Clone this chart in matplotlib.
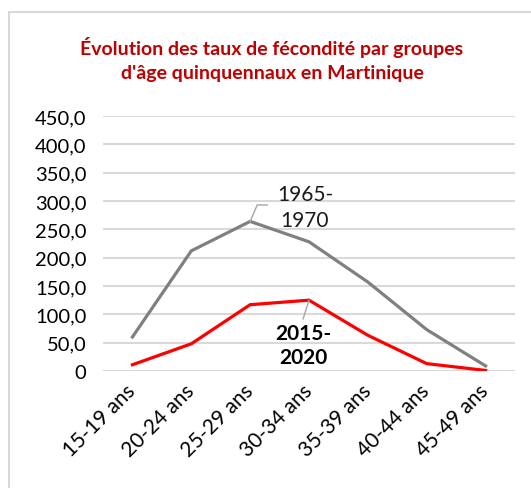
import matplotlib
matplotlib.use("Agg")
import matplotlib.pyplot as plt
from matplotlib.patches import Rectangle

plt.rcParams['font.family'] = ['Lato', 'DejaVu Sans']

age_groups = ["15-19 ans", "20-24 ans", "25-29 ans", "30-34 ans",
              "35-39 ans", "40-44 ans", "45-49 ans"]
taux_1965 = [60, 212, 264, 228, 157, 73, 9]
taux_2015 = [11, 48, 117, 125, 63, 13, 1]
y_ticks = [0, 50, 100, 150, 200, 250, 300, 350, 400, 450]
y_labels = ["0"] + ["%d,0" % v for v in y_ticks[1:]]

W, H = 531, 489
fig = plt.figure(figsize=(W / 100, H / 100), dpi=100)

# chart frame (runs off the right and bottom of the picture)
fig.patches.append(Rectangle((8.5 / W, -0.1), 1.2, 1 - 12.5 / H + 0.1,
                             transform=fig.transFigure, fill=False,
                             edgecolor="#D9D9D9", linewidth=1.5))

fig.text(272 / W, 1 - 47 / H, "Évolution des taux de fécondité par groupes",
         ha="center", va="center", color="#C00000", fontsize=14,
         fontweight="bold")
fig.text(272 / W, 1 - 73 / H, "d'âge quinquennaux en Martinique",
         ha="center", va="center", color="#C00000", fontsize=14,
         fontweight="bold")

ax = fig.add_axes([103 / W, 1 - 372 / H, 412 / W, 255 / H])
x = range(len(age_groups))
ax.plot(x, taux_1965, color="#808080", linewidth=2.3, solid_joinstyle="miter")
ax.plot(x, taux_2015, color="#FF0000", linewidth=2.3, solid_joinstyle="miter")

ax.set_xlim(-0.5, len(age_groups) - 0.5)
ax.set_ylim(0, 450)
ax.set_yticks(y_ticks)
ax.set_yticklabels(y_labels, fontsize=14.5)
ax.set_xticks(list(x))
ax.set_xticklabels(age_groups, fontsize=15, rotation=45, ha="right",
                   va="center", rotation_mode="anchor")
ax.tick_params(axis="both", length=0, colors="black")
ax.tick_params(axis="y", pad=12)
ax.tick_params(axis="x", pad=12)
ax.grid(axis="y", color="#D9D9D9", linewidth=1.5)
ax.set_axisbelow(True)
for s in ax.spines.values():
    s.set_visible(False)

# data labels with leader lines
i = 2
ax.plot([i, i + 0.12, i + 0.29], [taux_1965[i], 293, 293],
        color="#A6A6A6", linewidth=1)
ax.text(i + 0.93, 289, "1965-\n1970", ha="center", va="center",
        fontsize=15, linespacing=1.4, color="#1a1a1a")
i = 3
ax.plot([i, i - 0.1], [taux_2015[i], 92], color="#A6A6A6", linewidth=1)
ax.text(i - 0.1, 46, "2015-\n2020", ha="center", va="center",
        fontsize=15, linespacing=1.3, fontweight="bold", color="black")

fig.savefig("out.png", dpi=100)
